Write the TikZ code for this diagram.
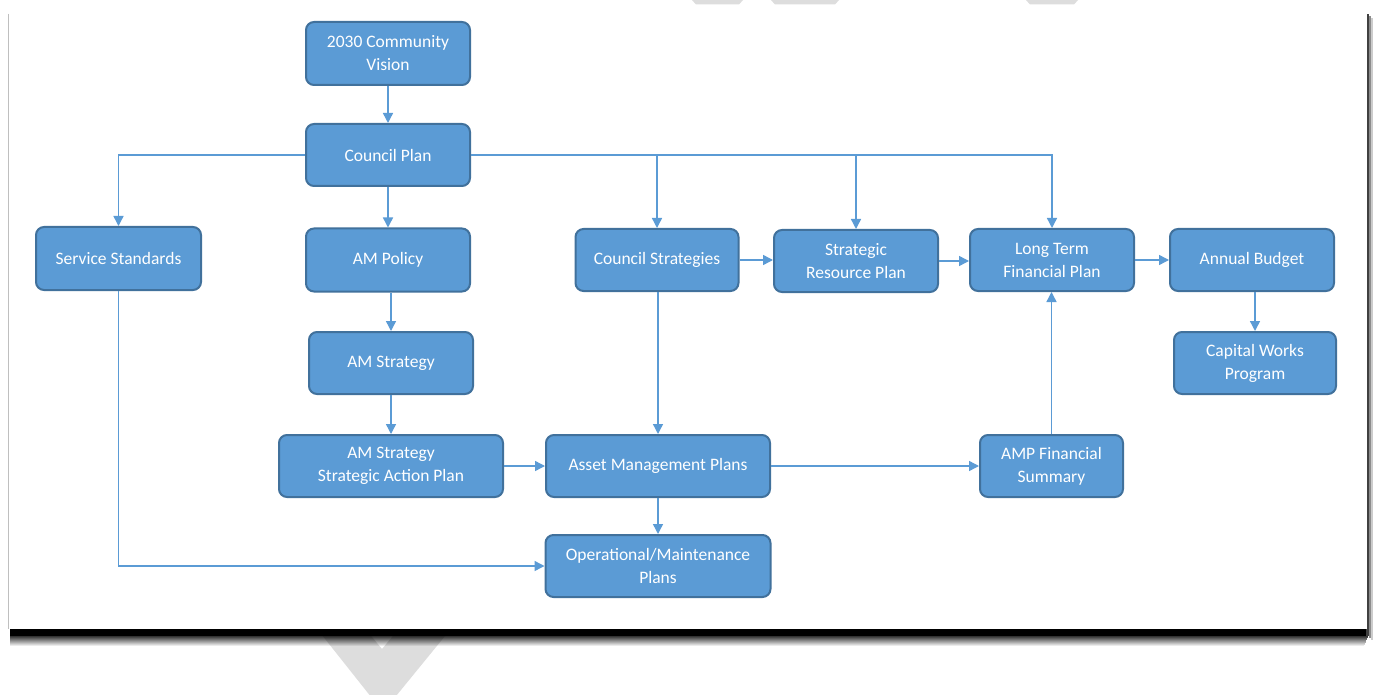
\documentclass[tikz,border=0pt]{standalone}
\usepackage{fontspec}
\setmainfont{Carlito}
\usetikzlibrary{arrows.meta}
\definecolor{boxfill}{HTML}{5B9BD5}
\definecolor{boxedge}{HTML}{41719C}
\definecolor{linkcol}{HTML}{5B9BD5}
\definecolor{chev}{HTML}{DDDDDD}
\tikzset{
  box/.style={draw=boxedge, line width=2pt, fill=boxfill, rounded corners=8pt,
    text=white, align=center, inner sep=0pt,
    font=\fontsize{17.5}{23}\selectfont},
  link/.style={draw=linkcol, line width=1.4pt, -{Triangle[length=10pt,width=10pt]}},
}
\begin{document}
\begin{tikzpicture}[x=1pt,y=-1pt]
\clip (0,0) rectangle (1376,695);
\fill[white] (0,0) rectangle (1376,695);
% background chevron pieces
\fill[chev] (692,0) -- (743,0) -- (739,4.5) -- (696,4.5) -- cycle;
\fill[chev] (771,0) -- (839,0) -- (835,4.5) -- (775,4.5) -- cycle;
\fill[chev] (1026,0) -- (1078,0) -- (1074,4.5) -- (1030,4.5) -- cycle;
\fill[chev] (314,625) -- (383,712) -- (454,625) -- (402,625) -- (382,649) -- (362,625) -- cycle;
% page shadow
\foreach \i in {0,...,9} {
  \fill[black, opacity=0.8-0.08*\i] (10,636+\i) rectangle (1368-0.4*\i,637+\i);
}
\fill[black] (10,628) rectangle (1366,636.2);
\fill[black!75] (1366,14) rectangle (1369,636);
\fill[black!45] (1369,16) rectangle (1371,638);
\fill[black!20] (1371,18) rectangle (1373,640);
% page
\fill[white] (8,10) rectangle (1367,629);
\draw[black!25, line width=1.2pt] (8.6,14) -- (8.6,629);

% nodes
\node[box, minimum width=164pt, minimum height=63pt] (vis) at (388,53.5) {2030 Community\\Vision};
\node[box, minimum width=164pt, minimum height=62pt] (cp) at (388,155) {Council Plan};
\node[box, minimum width=165pt, minimum height=63pt] (ss) at (118.5,258.5) {Service Standards};
\node[box, minimum width=164pt, minimum height=63pt] (amp) at (388,260) {AM Policy};
\node[box, minimum width=164pt, minimum height=62pt] (ams) at (391,363) {AM Strategy};
\node[box, minimum width=224pt, minimum height=62pt] (sap) at (391,466) {AM Strategy\\Strategic Action Plan};
\node[box, minimum width=163pt, minimum height=62pt] (cs) at (657,260) {Council Strategies};
\node[box, minimum width=164pt, minimum height=62pt] (srp) at (856,261) {Strategic\\Resource Plan};
\node[box, minimum width=164pt, minimum height=62pt] (ltfp) at (1052,260) {Long Term\\Financial Plan};
\node[box, minimum width=164pt, minimum height=62pt] (ab) at (1252,260) {Annual Budget};
\node[box, minimum width=162pt, minimum height=62pt] (cwp) at (1255,363) {Capital Works\\Program};
\node[box, minimum width=224pt, minimum height=62pt] (amps) at (658,466) {Asset Management Plans};
\node[box, minimum width=143pt, minimum height=62pt] (fs) at (1051.5,466) {AMP Financial\\Summary};
\node[box, minimum width=225pt, minimum height=62pt] (ops) at (658,566) {Operational/Maintenance\\Plans};

% connectors
\draw[link] (vis) -- (cp);
\draw[link] (cp.west) -| (ss.north);
\draw[link] (cp.east) -| (cs.north);
\draw[link] (cp.east) -| (srp.north);
\draw[link] (cp.east) -| (ltfp.north);
\draw[link] (cp.south) -- (amp.north);
\draw[link] (amp.south -| ams.north) -- (ams.north);
\draw[link] (ams.south) -- (sap.north);
\draw[link] (sap.east) -- (amps.west);
\draw[link] (cs.south -| amps.north) -- (amps.north);
\draw[link] (cs.east) -- (cs.east -| srp.west);
\draw[link] (srp.east) -- (srp.east -| ltfp.west);
\draw[link] (ltfp.east) -- (ab.west);
\draw[link] (ab.south -| cwp.north) -- (cwp.north);
\draw[link] (amps.east) -- (fs.west);
\draw[link] (fs.north) -- (fs.north |- ltfp.south);
\draw[link] (amps.south) -- (ops.north);
\draw[link] (ss.south) |- (ops.west);
\end{tikzpicture}
\end{document}
